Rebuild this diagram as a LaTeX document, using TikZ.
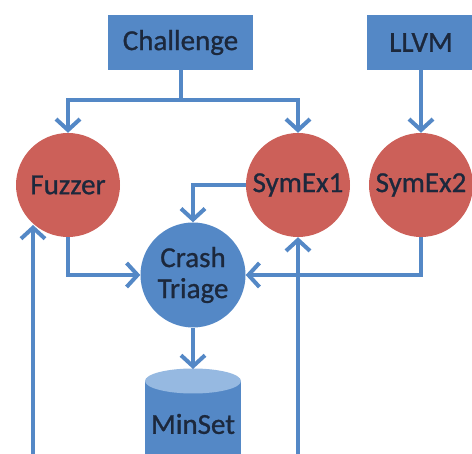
\documentclass[tikz,border=0pt]{standalone}
\usepackage{fontspec}
\setmainfont{Carlito}
\newfontfamily\labelfont[FakeBold=0.9]{Carlito}
\usetikzlibrary{arrows.meta}

\definecolor{boxblue}{RGB}{84,136,198}
\definecolor{toplight}{RGB}{150,185,225}
\definecolor{nodered}{RGB}{204,96,89}
\definecolor{labeltext}{RGB}{28,40,60}

\tikzset{
  lbl/.style={text=labeltext, font=\labelfont\fontsize{29}{31}\selectfont, align=center, inner sep=0pt},
  inbox/.style={lbl, fill=boxblue, minimum height=55pt},
  agent/.style={lbl, circle, fill=nodered, minimum size=104pt},
  triage/.style={lbl, circle, fill=boxblue, minimum size=105pt},
  flow/.style={draw=boxblue, line width=4pt, -{Straight Barb[length=11pt,width=24pt,line width=4pt]}},
  link/.style={draw=boxblue, line width=4pt}
}

\begin{document}
\begin{tikzpicture}[x=1pt, y=-1pt]
  \useasboundingbox (0,0) rectangle (472,454);
  \clip (0,0) rectangle (472,454);

  % sources
  \node[inbox, minimum width=145pt] (ch) at (180.5,42.5) {Challenge};
  \node[inbox, minimum width=108pt] (llvm) at (421,42.5) {LLVM};

  % analysis engines
  \node[agent] (fz) at (68,185) {Fuzzer};
  \node[agent] (s1) at (298,185) {SymEx1};
  \node[agent] (s2) at (421,185) {SymEx2};

  % triage
  \node[triage] (ct) at (193,275) {Crash\\Triage};

  % result store drawn as a cylinder
  \fill[boxblue] (145,381) rectangle (241,470);
  \fill[toplight] (193,381) ellipse (48pt and 12.5pt);
  \coordinate (mstop) at (193,369);
  \node[lbl] (ms) at (193,424) {MinSet};

  % feed-back inputs entering from below
  \coordinate (in1) at (33,470);
  \coordinate (in2) at (298,470);
  \coordinate (split) at (180.5,100);

  % connectors
  \draw[link] (ch.south) -- (split);
  \draw[flow] (split) -| (fz.north);
  \draw[flow] (split) -| (s1.north);
  \draw[flow] (llvm.south) -- (s2.north);
  \draw[flow] (s1.west) -| (ct.north);
  \draw[flow] (fz.south) |- (ct.west);
  \draw[flow] (s2.south) |- (ct.east);
  \draw[flow] (ct.south) -- (mstop);
  \draw[flow] (in1) -- (in1 |- fz.-130);
  \draw[flow] (in2) -- (s1.south);
\end{tikzpicture}
\end{document}
